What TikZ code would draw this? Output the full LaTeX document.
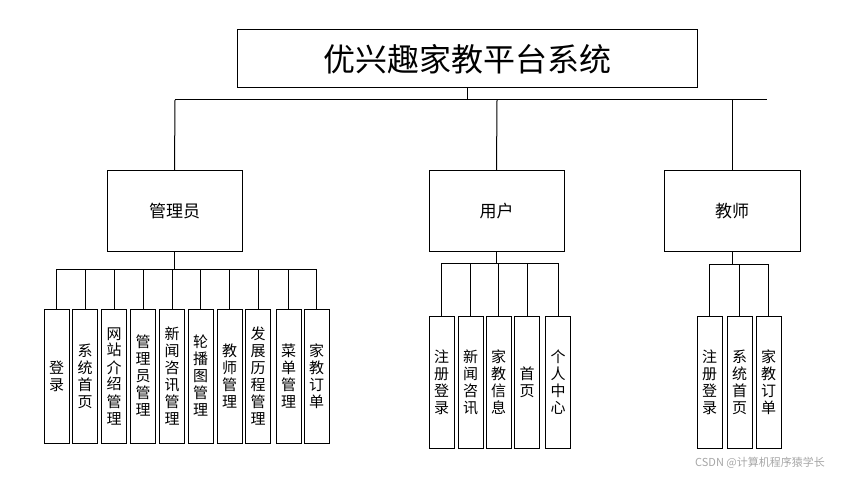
\documentclass[tikz,border=0pt]{standalone}
\usepackage{fontspec}
\newfontfamily\cjk{Noto Sans CJK SC}
\begin{document}
\begin{tikzpicture}[x=1pt,y=-1pt,line width=1pt,
  box/.style={draw,rectangle,inner sep=0pt,font=\cjk},
  leaf/.style={box,minimum width=25pt,minimum height=134pt,font=\cjk\fontsize{15}{17}\selectfont,align=center}]
\useasboundingbox (0,0) rectangle (864,478);
\node[box,minimum width=460pt,minimum height=58pt,font=\cjk\fontsize{32}{36}\selectfont] (t) at (467,59) {优兴趣家教平台系统};
\node[box,minimum width=135pt,minimum height=81pt,font=\cjk\fontsize{17}{20}\selectfont] (a) at (174.5,211.5) {管理员};
\node[box,minimum width=135pt,minimum height=81pt,font=\cjk\fontsize{17}{20}\selectfont] (u) at (496.5,211.5) {用户};
\node[box,minimum width=136pt,minimum height=81pt,font=\cjk\fontsize{17}{20}\selectfont] (s) at (732,211.5) {教师};
\draw (t.south) -- (467,100) coordinate (b0);
\draw (175,100) -- (767,100);
\foreach \n/\x in {a/175,u/497,s/732}{\draw (\x,100) -- (\n.north);}
% admin leaves
\foreach \i/\x/\txt in {1/56.5/登\\录,2/85/系\\统\\首\\页,3/114/网\\站\\介\\绍\\管\\理,4/143/管\\理\\员\\管\\理,5/172/新\\闻\\咨\\讯\\管\\理,6/200.5/轮\\播\\图\\管\\理,7/229.5/教\\师\\管\\理,8/258/发\\展\\历\\程\\管\\理,9/288.5/菜\\单\\管\\理,10/316.5/家\\教\\订\\单}{
  \node[leaf,minimum height=134pt] (al\i) at (\x,376) {\txt};
  \draw (\x,269) -- (al\i.north);}
\draw (56.5,269) -- (316.5,269);
\draw (a.south) -- (174.5,269);
% user leaves
\foreach \i/\x/\txt in {1/441.5/注\\册\\登\\录,2/470.5/新\\闻\\咨\\讯,3/498.5/家\\教\\信\\息,4/527/首\\页,5/558/个\\人\\中\\心}{
  \node[leaf,minimum height=132pt] (ul\i) at (\x,382) {\txt};
  \draw (\x,263) -- (ul\i.north);}
\draw (441.5,263) -- (558,263);
\draw (u.south) -- (496.5,263);
% teacher leaves
\foreach \i/\x/\txt in {1/709.5/注\\册\\登\\录,2/739.5/系\\统\\首\\页,3/768.5/家\\教\\订\\单}{
  \node[leaf,minimum height=132pt] (sl\i) at (\x,382) {\txt};
  \draw (\x,264) -- (sl\i.north);}
\draw (709.5,264) -- (768.5,264);
\draw (s.south) -- (732,264);
\node[font=\cjk\fontsize{11}{13}\selectfont,text=gray!70] (wm) at (760,463) {CSDN @计算机程序猿学长};
\end{tikzpicture}
\end{document}
